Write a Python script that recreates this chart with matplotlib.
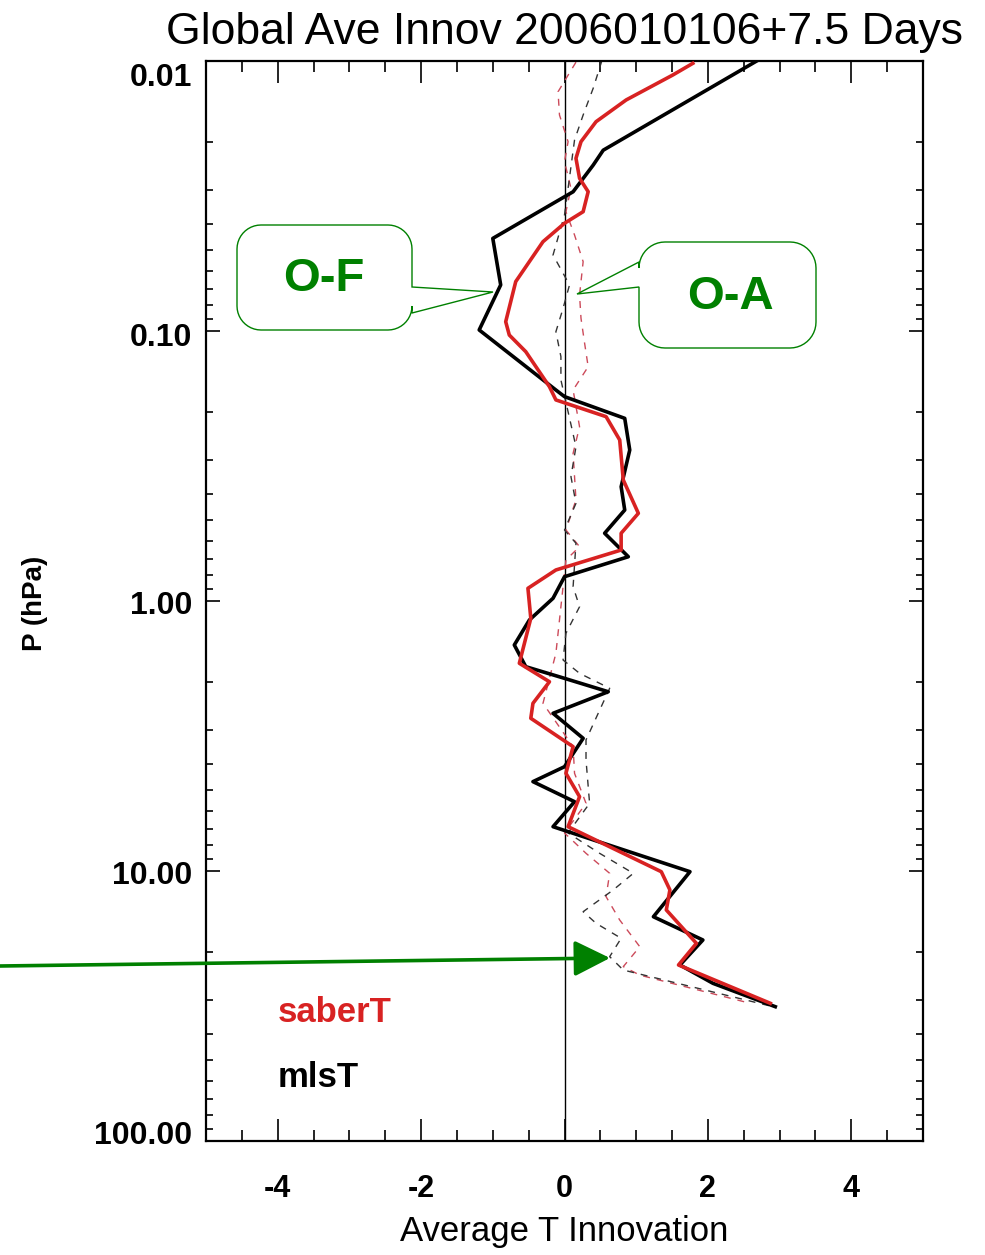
import numpy as np
import matplotlib
matplotlib.use("Agg")
import matplotlib.pyplot as plt
from matplotlib.ticker import MultipleLocator, FixedLocator, LogLocator, NullFormatter
from matplotlib.path import Path
from matplotlib.patches import PathPatch, FancyArrowPatch
from matplotlib.transforms import ScaledTranslation

plt.rcParams['font.family'] = ['Liberation Sans', 'DejaVu Sans']

# ---- O-F (observation minus forecast) profiles ----
mls_of_p = [0.0100, 0.0214, 0.0243, 0.0305, 0.0454, 0.0675, 0.0991, 0.1654, 0.175,
            0.2106, 0.2759, 0.3773, 0.4603, 0.5611, 0.6855, 0.8128, 0.9772, 1.176,
            1.455, 1.751, 1.934, 2.168, 2.606, 3.225, 4.109, 4.667, 5.537, 6.853,
            10.06, 14.77, 18.01, 22.29, 26.06, 31.81]
mls_of_t = [2.68, 0.54, 0.40, 0.12, -1.00, -0.89, -1.19, -0.12, 0.00,
            0.84, 0.91, 0.79, 0.84, 0.56, 0.89, 0.00, -0.16, -0.49,
            -0.70, -0.54, 0.00, 0.61, -0.16, 0.26, 0.00, -0.44, 0.14, -0.16,
            1.75, 1.24, 1.93, 1.61, 2.07, 2.94]

saber_of_p = [0.0102, 0.01127, 0.01394, 0.01678, 0.0199, 0.02293, 0.02719, 0.03048,
              0.03615, 0.0399, 0.04669, 0.0656, 0.0924, 0.1035, 0.1193, 0.1608, 0.18,
              0.2076, 0.2533, 0.3564, 0.4734, 0.5611, 0.6474, 0.7675, 0.8974, 1.159,
              1.701, 1.991, 2.393, 2.719, 3.464, 4.347, 5.306, 6.853, 10.06, 11.75,
              13.94, 18.53, 22.29, 30.9]
saber_of_t = [1.79, 1.51, 0.86, 0.44, 0.23, 0.16, 0.21, 0.33,
              0.26, 0.00, -0.30, -0.68, -0.82, -0.77, -0.54, -0.21, -0.12,
              0.58, 0.77, 0.82, 1.03, 0.79, 0.79, -0.12, -0.51, -0.47,
              -0.63, -0.21, -0.44, -0.47, 0.12, 0.02, 0.21, 0.05, 1.35, 1.47,
              1.42, 1.84, 1.59, 2.87]

# ---- O-A (observation minus analysis) profiles ----
saber_oa_p = [0.0101, 0.0130, 0.01585, 0.0199, 0.0236, 0.0296, 0.03615, 0.0441,
              0.05537, 0.07356, 0.0897, 0.1108, 0.1356, 0.1654, 0.2262, 0.2838,
              0.4226, 0.5458, 0.6293, 0.7047, 1.562, 2.393, 3.464, 4.347, 5.615,
              7.23, 8.6, 10.2, 12.45, 15.19, 19.07, 22.6, 24.3, 30.9]
saber_oa_t = [0.16, -0.09, -0.07, 0.05, 0.00, 0.09, 0.02, 0.14,
              0.26, 0.21, 0.23, 0.28, 0.33, 0.12, 0.21, 0.12,
              0.16, 0.02, 0.21, 0.02, -0.12, -0.30, 0.12, 0.14, 0.30,
              0.00, 0.30, 0.63, 0.58, 0.77, 1.05, 0.82, 1.05, 2.59]

mls_oa_p = [0.0100, 0.01262, 0.01585, 0.01962, 0.03719, 0.05231, 0.0675, 0.0824,
            0.1006, 0.1245, 0.1519, 0.2683, 0.3464, 0.4346, 0.5458, 0.611, 0.885,
            1.05, 1.317, 1.654, 1.853, 2.105, 3.27, 3.88, 5.615, 7.23, 8.6, 10.2,
            11.75, 14.15, 15.62, 17.75, 20.76, 23.27, 31.81]
mls_oa_t = [0.52, 0.40, 0.26, 0.14, 0.00, -0.16, 0.07, -0.02,
            -0.12, -0.05, -0.05, 0.16, 0.09, 0.16, 0.00, 0.16, 0.12,
            0.21, 0.02, -0.02, 0.21, 0.63, 0.30, 0.30, 0.35, 0.05, 0.49, 0.96,
            0.68, 0.26, 0.44, 0.79, 0.63, 0.82, 2.91]

p_ticks = [0.01, 0.1, 1.0, 10.0, 100.0]
t_ticks = [-4, -2, 0, 2, 4]

RED = '#d82222'
RED_DASH = '#cc4a5a'
GREY_DASH = '#333333'
GREEN = '#008000'

W, H = 985, 1255
fig = plt.figure(figsize=(W / 100, H / 100), dpi=100)
ax = fig.add_axes([206 / W, 1 - 1141 / H, (923 - 206) / W, (1141 - 61) / H])

ax.set_yscale('log')
ax.set_ylim(100, 0.01)
ax.set_xlim(-5, 5)

ax.axvline(0, color='black', lw=1.0, zorder=1)

dash = (0, (5, 5))
ax.plot(saber_oa_t, saber_oa_p, color=RED_DASH, lw=1.0, ls=dash, zorder=2)
ax.plot(mls_oa_t, mls_oa_p, color=GREY_DASH, lw=1.0, ls=dash, zorder=2)
ax.plot(mls_of_t, mls_of_p, color='black', lw=2.6, zorder=3)
ax.plot(saber_of_t, saber_of_p, color=RED, lw=2.6, zorder=4)

# axes styling
for s in ax.spines.values():
    s.set_linewidth(1.6)
ax.xaxis.set_major_locator(FixedLocator(t_ticks))
ax.xaxis.set_minor_locator(MultipleLocator(0.5))
ax.yaxis.set_major_locator(FixedLocator(p_ticks))
ax.yaxis.set_minor_locator(LogLocator(base=10, subs=np.arange(2, 10)))
ax.yaxis.set_minor_formatter(NullFormatter())
ax.set_yticklabels([f"{v:.2f}" for v in p_ticks])
ax.set_xticklabels([str(v) for v in t_ticks])

ax.tick_params(axis='both', which='both', direction='in', top=True, right=True, width=1.2)
ax.tick_params(axis='x', which='major', length=16, pad=24, labelsize=22)
ax.tick_params(axis='x', which='minor', length=8)
ax.tick_params(axis='y', which='major', length=10, pad=10, labelsize=23)
ax.tick_params(axis='y', which='minor', length=5)
for lab in ax.get_xticklabels() + ax.get_yticklabels():
    lab.set_fontweight('bold')

# pressure labels sit slightly inside the axis ends
y_label_shift = [-14, -3, -2, -1, 9]
for lab, dy in zip(ax.get_yticklabels(), y_label_shift):
    lab.set_transform(lab.get_transform() + ScaledTranslation(0, dy / 100, fig.dpi_scale_trans))


def px(x, y):
    return (x / W, 1 - y / H)


ax.set_xlabel('Average T Innovation', fontsize=25, labelpad=8)
fig.text(*px(35, 603), 'P (hPa)', fontsize=20, fontweight='bold', rotation=90,
         ha='center', va='center')
ax.set_title('Global Ave Innov 2006010106+7.5 Days', fontsize=32, pad=12)

# series labels
ax.text(-4.0, 33.3, 'saberT', color=RED, fontsize=25, fontweight='bold', va='center', ha='left')
ax.text(-4.0, 58.4, 'mlsT', color='black', fontsize=25, fontweight='bold', va='center', ha='left')


def callout(x0, y0, x1, y1, r, side, a, b, tip):
    """Rounded box with a wedge pointer; pixel coordinates, y downwards."""
    n = 12

    def arc(cx, cy, t0, t1):
        ts = np.linspace(np.radians(t0), np.radians(t1), n)
        return [(cx + r * np.cos(t), cy - r * np.sin(t)) for t in ts]
    pts = []
    pts += arc(x0 + r, y0 + r, 180, 90)
    pts += arc(x1 - r, y0 + r, 90, 0)
    if side == 'right':
        pts += [(x1, a), tip, (x1, b)]
    pts += arc(x1 - r, y1 - r, 0, -90)
    pts += arc(x0 + r, y1 - r, 270, 180)
    if side == 'left':
        pts += [(x0, b), tip, (x0, a)]
    verts = [px(*p) for p in pts]
    verts.append(verts[0])
    codes = [Path.MOVETO] + [Path.LINETO] * (len(verts) - 2) + [Path.CLOSEPOLY]
    patch = PathPatch(Path(verts, codes), transform=fig.transFigure, fc='white',
                      ec=GREEN, lw=1.0, zorder=10)
    fig.add_artist(patch)


callout(237, 225, 412, 330, 24, 'right', 287, 313, (493, 292))
callout(639, 242, 816, 348, 26, 'left', 262, 287, (577, 294))
fig.text(*px(324, 279), 'O-F', color=GREEN, fontsize=34, fontweight='bold',
         ha='center', va='center', zorder=11)
fig.text(*px(730, 297), 'O-A', color=GREEN, fontsize=34, fontweight='bold',
         ha='center', va='center', zorder=11)

# green pointer arrow into the O-A tail
fig.add_artist(FancyArrowPatch(
    px(0, 966), px(610, 958), transform=fig.transFigure, arrowstyle='-|>',
    mutation_scale=55, lw=2.6, color=GREEN, shrinkA=0, shrinkB=0, zorder=12))

fig.savefig('out.png', dpi=100, facecolor='white')
